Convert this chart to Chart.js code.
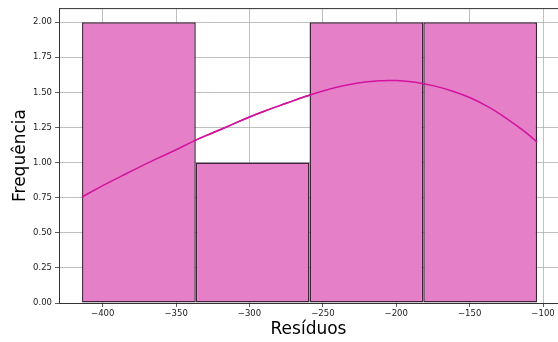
<!DOCTYPE html>
<html lang="pt">
<head>
    <meta charset="UTF-8">
    <title>Histograma dos Resíduos</title>
    <script src="https://cdn.jsdelivr.net/npm/chart.js"></script>
    <style>
        * { margin: 0; padding: 0; box-sizing: border-box; }
        html, body { width: 558px; height: 342px; background: white; overflow: hidden; }
        .chart-container { position: relative; width: 558px; height: 342px; }
    </style>
</head>
<body>
    <div class="chart-container">
        <canvas id="histChart"></canvas>
    </div>

    <script>
        // histogram bins (edges) and counts
        const binEdges = [-414.1, -336.6, -259.1, -181.6, -104.1];
        const binCounts = [2, 1, 2, 2];

        // kde curve
        const kdeX = [-414.1, -400, -387, -375, -362, -350, -337, -325, -312, -300, -287, -275, -262, -250,
                      -237, -225, -212, -205, -200, -187, -175, -162, -150, -137, -125, -112, -104.1];
        const kdeY = [0.755, 0.836, 0.905, 0.968, 1.033, 1.091, 1.158, 1.212, 1.270, 1.325, 1.377, 1.422, 1.470, 1.510,
                      1.545, 1.568, 1.582, 1.585, 1.584, 1.572, 1.548, 1.510, 1.463, 1.395, 1.315, 1.217, 1.146];

        const xMin = -429.8, xMax = -89.8, xStep = 50;
        const yMax = 2.1, yStep = 0.25;

        const binWidth = binEdges[1] - binEdges[0];
        const bars = binCounts.map((c, i) => ({ x: (binEdges[i] + binEdges[i + 1]) / 2, y: c }));
        const kde = kdeX.map((x, i) => ({ x: x, y: kdeY[i] }));

        const tickFont = { family: 'DejaVu Sans', size: 8.5 };
        const titleFont = { family: 'DejaVu Sans', size: 17 };

        // top spine + redraw the kde line above the grid
        const framePlugin = {
            id: 'frame',
            afterDraw(chart) {
                const { ctx, chartArea } = chart;
                ctx.save();
                ctx.strokeStyle = '#333';
                ctx.lineWidth = 1;
                ctx.beginPath();
                ctx.moveTo(chartArea.left, chartArea.top + 0.5);
                ctx.lineTo(chartArea.right, chartArea.top + 0.5);
                ctx.stroke();
                ctx.restore();
                chart.getDatasetMeta(1).controller.draw();
            }
        };

        new Chart(document.getElementById('histChart'), {
            data: {
                datasets: [{
                    type: 'bar',
                    data: bars,
                    backgroundColor: '#e580c8',
                    borderColor: '#3d2238',
                    borderWidth: 1.5,
                    borderSkipped: false,
                    barPercentage: 1,
                    // ruler min is the tick step, so stretch to the full bin width
                    categoryPercentage: binWidth / xStep,
                    grouped: false
                }, {
                    type: 'line',
                    data: kde,
                    borderColor: '#d3129e',
                    borderWidth: 1.5,
                    pointRadius: 0,
                    fill: false,
                    tension: 0.4
                }]
            },
            options: {
                responsive: true,
                maintainAspectRatio: false,
                animation: false,
                layout: { padding: { top: 8, right: 0, left: 0, bottom: 0 } },
                plugins: { legend: { display: false }, tooltip: { enabled: false } },
                scales: {
                    x: {
                        type: 'linear',
                        min: xMin, max: xMax,
                        offset: false,
                        z: 1,
                        afterFit(scale) { scale.height = 39; },
                        grid: { offset: false, color: '#b0b0b0', lineWidth: 0.8, tickLength: 4, tickColor: '#333' },
                        border: { color: '#333', width: 1 },
                        ticks: {
                            stepSize: xStep, includeBounds: false, color: '#222', font: tickFont, padding: 2,
                            maxRotation: 0,
                            callback: v => (v < 0 ? '\u2212' + Math.abs(v) : String(v))
                        },
                        title: { display: true, text: 'Resíduos', color: '#000', font: titleFont, padding: { top: 0, bottom: 2 } }
                    },
                    y: {
                        min: 0, max: yMax,
                        z: 1,
                        afterFit(scale) { scale.width = 59; },
                        grid: { color: '#b0b0b0', lineWidth: 0.8, tickLength: 4, tickColor: '#333' },
                        border: { color: '#333', width: 1 },
                        ticks: {
                            stepSize: yStep, includeBounds: false, color: '#222', font: tickFont, padding: 3,
                            callback: v => v.toFixed(2)
                        },
                        title: { display: true, text: 'Frequência', color: '#000', font: titleFont, padding: { top: 10, bottom: 0 } }
                    }
                }
            },
            plugins: [framePlugin]
        });
    </script>
</body>
</html>
